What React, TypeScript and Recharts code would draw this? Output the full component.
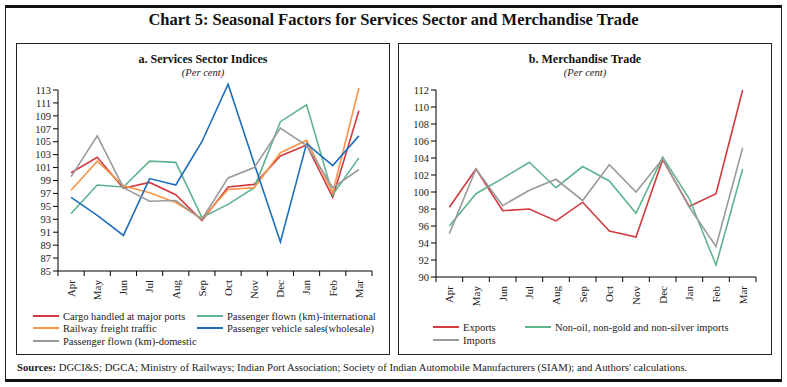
import React from 'react';
import { LineChart, Line, XAxis, YAxis } from 'recharts';

const months = ['Apr', 'May', 'Jun', 'Jul', 'Aug', 'Sep', 'Oct', 'Nov', 'Dec', 'Jan', 'Feb', 'Mar'];

// a. Services sector indices
const cargoPorts = [100.2, 102.6, 97.8, 98.7, 96.8, 92.8, 98.0, 98.4, 102.8, 104.5, 96.4, 109.8];
const railwayFreight = [97.5, 102.0, 98.2, 97.1, 95.6, 93.1, 97.6, 97.9, 103.3, 105.2, 97.1, 113.3];
const paxIntl = [93.9, 98.3, 98.0, 102.0, 101.8, 93.3, 95.3, 97.9, 108.1, 110.7, 96.8, 102.5];
const vehicleSales = [96.4, 93.6, 90.5, 99.3, 98.3, 105.0, 113.9, 101.6, 89.5, 104.7, 101.3, 105.9];
const paxDomestic = [99.6, 105.9, 97.9, 95.8, 95.9, 93.0, 99.4, 101.0, 107.1, 104.4, 97.9, 100.7];
const servicesTicks = [85, 87, 89, 91, 93, 95, 97, 99, 101, 103, 105, 107, 109, 111, 113];

// b. Merchandise trade
const exportsIdx = [98.2, 102.7, 97.8, 98.0, 96.6, 98.8, 95.4, 94.7, 103.8, 98.3, 99.8, 112.0];
const nonOilImports = [96.0, 99.8, 101.6, 103.5, 100.5, 103.0, 101.3, 97.5, 104.1, 99.2, 91.4, 102.7];
const importsIdx = [95.1, 102.7, 98.4, 100.2, 101.5, 99.0, 103.2, 100.0, 103.9, 98.2, 93.6, 105.2];
const tradeTicks = [90, 92, 94, 96, 98, 100, 102, 104, 106, 108, 110, 112];

const RED = '#d13b40';
const ORANGE = '#f7954a';
const GREEN = '#5fb38d';
const BLUE = '#1e6ebd';
const GREY = '#9a9a9a';

const FONT = "'Liberation Serif', 'DejaVu Serif', serif";

const servicesData = months.map((m, i) => ({
    month: m,
    cargo: cargoPorts[i],
    railway: railwayFreight[i],
    intl: paxIntl[i],
    vehicle: vehicleSales[i],
    domestic: paxDomestic[i],
}));

const tradeData = months.map((m, i) => ({
    month: m,
    exports: exportsIdx[i],
    nonOil: nonOilImports[i],
    imports: importsIdx[i],
}));

const servicesSeries = [
    { key: 'cargo', name: 'Cargo handled at major ports', color: RED },
    { key: 'intl', name: 'Passenger flown (km)-international', color: GREEN },
    { key: 'railway', name: 'Railway freight traffic', color: ORANGE },
    { key: 'vehicle', name: 'Passenger vehicle sales(wholesale)', color: BLUE },
    { key: 'domestic', name: 'Passenger flown (km)-domestic', color: GREY },
];

const tradeSeries = [
    { key: 'exports', name: 'Exports', color: RED },
    { key: 'nonOil', name: 'Non-oil, non-gold and non-silver imports', color: GREEN },
    { key: 'imports', name: 'Imports', color: GREY },
];

// excel style: tick marks at category boundaries, labels rotated
const monthTick = (band: number) => (props: any) => {
    const { x, y, payload, index } = props;
    return (
        <g transform={`translate(${x},${y})`}>
            <line x1={-band / 2} x2={-band / 2} y1={0} y2={5} stroke="#000" />
            {index === months.length - 1 && <line x1={band / 2} x2={band / 2} y1={0} y2={5} stroke="#000" />}
            <text
                transform="rotate(-90)"
                x={-9}
                y={0}
                dy="0.35em"
                textAnchor="end"
                fontSize={11}
                fill="#222"
                fontFamily={FONT}
            >
                {payload.value}
            </text>
        </g>
    );
};

interface PanelProps {
    left: number;
    title: string;
    data: any[];
    series: { key: string; name: string; color: string }[];
    domain: [number, number];
    ticks: number[];
    margin: { top: number; right: number; left: number; bottom: number };
    chartHeight: number;
    band: number;
    legend: { x: number; y: number }[];
}

const Panel: React.FC<PanelProps> = ({ left, title, data, series, domain, ticks, margin, chartHeight, band, legend }) => (
    <div
        style={{
            position: 'absolute',
            left,
            top: 43,
            width: 374,
            height: 312,
            border: '1px solid #222',
            boxSizing: 'border-box',
            fontFamily: FONT,
        }}
    >
        <div style={{ position: 'absolute', top: 8, width: '100%', textAlign: 'center', fontSize: 12, fontWeight: 'bold', color: '#111' }}>
            {title}
        </div>
        <div style={{ position: 'absolute', top: 23, width: '100%', textAlign: 'center', fontSize: 10.5, fontStyle: 'italic', color: '#222' }}>
            (Per cent)
        </div>
        <div style={{ position: 'absolute', left: -1, top: -1 }}>
            <LineChart width={374} height={chartHeight} data={data} margin={margin}>
                <XAxis
                    dataKey="month"
                    interval={0}
                    padding={{ left: band / 2, right: band / 2 }}
                    axisLine={{ stroke: '#000' }}
                    tickLine={false}
                    tickSize={0}
                    tickMargin={0}
                    height={36}
                    tick={monthTick(band)}
                />
                <YAxis
                    domain={domain}
                    ticks={ticks}
                    allowDataOverflow
                    interval={0}
                    width={30}
                    tickSize={5}
                    axisLine={{ stroke: '#000' }}
                    tickLine={{ stroke: '#000' }}
                    tick={{ fontSize: 10.5, fill: '#222', fontFamily: FONT }}
                />
                {series.map((s) => (
                    <Line
                        key={s.key}
                        type="linear"
                        dataKey={s.key}
                        stroke={s.color}
                        strokeWidth={1.6}
                        dot={false}
                        isAnimationActive={false}
                    />
                ))}
            </LineChart>
        </div>
        {series.map((s, i) => (
            <div
                key={s.key}
                style={{ position: 'absolute', left: legend[i].x, top: legend[i].y - 7, height: 14, display: 'flex', alignItems: 'center', fontSize: 10.5, color: '#222', whiteSpace: 'nowrap' }}
            >
                <span style={{ display: 'inline-block', width: 26, height: 2, background: s.color, marginRight: 4 }} />
                {s.name}
            </div>
        ))}
    </div>
);

const App: React.FC = () => {
    return (
        <div style={{ position: 'absolute', left: 0, top: 0, width: 787, height: 387, background: '#fff', fontFamily: FONT }}>
            {/* lines may poke a little above the fixed axis max, like the excel original */}
            <style>{'.recharts-wrapper [clip-path] { clip-path: none !important; } .recharts-surface { overflow: visible; }'}</style>
            <div
                style={{
                    position: 'absolute',
                    left: 5,
                    top: 5,
                    width: 777,
                    height: 377,
                    borderTop: '3px solid #111',
                    borderBottom: '3px solid #111',
                    borderLeft: '1px solid #222',
                    borderRight: '1px solid #222',
                    boxSizing: 'border-box',
                }}
            />
            <div style={{ position: 'absolute', top: 10, width: 787, textAlign: 'center', fontSize: 16.5, fontWeight: 'bold', color: '#111' }}>
                Chart 5: Seasonal Factors for Services Sector and Merchandise Trade
            </div>
            <Panel
                left={16}
                title="a. Services Sector Indices"
                data={servicesData}
                series={servicesSeries}
                domain={[85, 113]}
                ticks={servicesTicks}
                margin={{ top: 47, right: 18, left: 12, bottom: 0 }}
                chartHeight={264}
                band={26.2}
                legend={[
                    { x: 16, y: 272 },
                    { x: 180, y: 272 },
                    { x: 16, y: 284 },
                    { x: 180, y: 284 },
                    { x: 16, y: 297 },
                ]}
            />
            <Panel
                left={398}
                title="b. Merchandise Trade"
                data={tradeData}
                series={tradeSeries}
                domain={[90, 112]}
                ticks={tradeTicks}
                margin={{ top: 47, right: 16, left: 8, bottom: 0 }}
                chartHeight={270}
                band={26.67}
                legend={[
                    { x: 34, y: 283 },
                    { x: 126, y: 283 },
                    { x: 34, y: 296 },
                ]}
            />
            <div style={{ position: 'absolute', left: 17, top: 361, fontSize: 10.7, color: '#222', whiteSpace: 'nowrap' }}>
                <b>Sources:</b> DGCI&amp;S; DGCA; Ministry of Railways; Indian Port Association; Society of Indian Automobile Manufacturers (SIAM); and Authors' calculations.
            </div>
        </div>
    );
};

export default App;
